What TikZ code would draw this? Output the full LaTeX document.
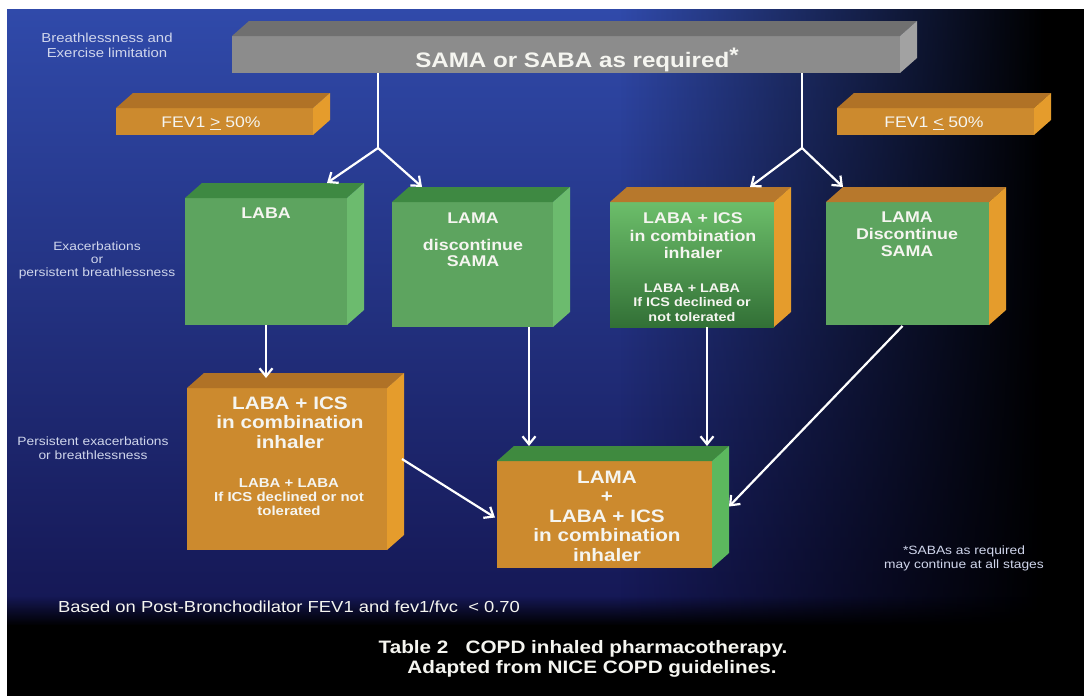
\documentclass[tikz,border=0pt]{standalone}
\usepackage{fontspec}
\setmainfont{Liberation Sans}[FakeStretch=1.15]
\usetikzlibrary{arrows.meta,calc,fadings}
\definecolor{bgT}{RGB}{48,74,170}
\definecolor{bgM}{RGB}{38,52,140}
\definecolor{bgB}{RGB}{20,22,82}
\definecolor{grF}{RGB}{93,164,95}
\definecolor{grT}{RGB}{62,137,66}
\definecolor{grS}{RGB}{108,187,110}
\definecolor{grA}{RGB}{108,190,106}
\definecolor{grB}{RGB}{50,112,54}
\definecolor{orF}{RGB}{204,138,46}
\definecolor{orT}{RGB}{176,114,38}
\definecolor{orS}{RGB}{229,156,44}
\definecolor{brT}{RGB}{183,120,44}
\definecolor{gyF}{RGB}{140,140,140}
\definecolor{gyT}{RGB}{112,112,112}
\definecolor{gyS}{RGB}{162,162,162}
\definecolor{fgT}{RGB}{63,138,63}
\definecolor{fgS}{RGB}{92,184,94}
\definecolor{labc}{RGB}{208,214,236}
\definecolor{txc}{RGB}{245,245,240}
\tikzfading[name=fadeR, left color=transparent!100, right color=transparent!0]
\tikzfading[name=fadeD, top color=transparent!100, bottom color=transparent!0]
\newcommand{\cubebox}[8]{%
  \node[face, #6, minimum width=#4pt, minimum height=#5pt, anchor=north west] (#1) at (#2,#3) {};
  \fill[#7] (#1.north west) -- ++(17,-15) -- ($(#1.north east)+(17,-15)$) -- (#1.north east) -- cycle;
  \fill[#8] (#1.north east) -- ++(17,-15) -- ($(#1.south east)+(17,-15)$) -- (#1.south east) -- cycle;
}
\begin{document}
\begin{tikzpicture}[x=1pt,y=-1pt,
  face/.style={rectangle, inner sep=0pt, outer sep=0pt, draw=none},
  conn/.style={draw=white, line width=2.2pt},
  arr/.style={conn, -{Straight Barb[length=8pt,width=13pt]}},
  txt/.style={text=txc, inner sep=0pt, align=center},
  lab/.style={text=labc, inner sep=0pt, align=center}]
\useasboundingbox (0,0) rectangle (1084,696);
% background
\fill[white] (0,0) rectangle (1084,696);
\shade[top color=bgT, middle color=bgM, bottom color=bgB] (7,9) rectangle (1084,625);
\fill[black, path fading=fadeR] (620,9) rectangle (1045,625);
\fill[black] (1044,9) rectangle (1084,625);
\fill[black, path fading=fadeD] (7,596) rectangle (1084,626);
\fill[black] (7,625) rectangle (1084,696);

% boxes
\cubebox{sama}{232}{36}{668}{37}{fill=gyF}{gyT}{gyS}
\cubebox{fevA}{116}{108}{197}{27}{fill=orF}{orT}{orS}
\cubebox{fevB}{837}{108}{197}{27}{fill=orF}{orT}{orS}
\cubebox{laba}{185}{198}{162}{127}{fill=grF}{grT}{grS}
\cubebox{lama}{392}{202}{161}{125}{fill=grF}{grT}{grS}
\cubebox{labaics}{610}{202}{164}{125}{top color=grA,bottom color=grB}{brT}{orS}
\cubebox{lamaR}{826}{202}{163}{123}{fill=grF}{brT}{orS}
\cubebox{labaicsO}{187}{388}{200}{162}{fill=orF}{orT}{orS}
\cubebox{final}{497}{461}{215}{107}{fill=orF}{fgT}{fgS}

% box texts
\node[txt, anchor=base, font=\fontsize{21}{24}\selectfont\bfseries] (samaT) at (577,67.5) {SAMA or SABA as required\raisebox{5pt}{*}};
\node[txt, anchor=base, font=\fontsize{15.3}{17}\selectfont] (fevAT) at (211,127.5) {FEV1 \underline{>} 50\%};
\node[txt, anchor=base, font=\fontsize{15.3}{17}\selectfont] (fevBT) at (934,127.5) {FEV1 \underline{<} 50\%};
\node[txt, anchor=north, font=\fontsize{15.5}{17.5}\selectfont\bfseries] (labaT) at (266,207.5) {LABA};
\node[txt, anchor=north, font=\fontsize{15.5}{16.5}\selectfont\bfseries] (lamaT) at (473,212.5) {LAMA\\[10.5pt]discontinue\\SAMA};
\node[txt, anchor=north, font=\fontsize{15.5}{17.5}\selectfont\bfseries] (labaicsT) at (693,212.5) {LABA + ICS\\in combination\\inhaler};
\node[txt, anchor=north, font=\fontsize{12.5}{14.5}\selectfont\bfseries] (labaicsS) at (692,283.5) {LABA + LABA\\If ICS declined or\\not tolerated};
\node[txt, anchor=north, font=\fontsize{15.5}{17}\selectfont\bfseries] (lamaRT) at (907,211.5) {LAMA\\Discontinue\\SAMA};
\node[txt, anchor=north, font=\fontsize{18}{19.5}\selectfont\bfseries] (labaicsOT) at (290,396.5) {LABA + ICS\\in combination\\inhaler};
\node[txt, anchor=north, font=\fontsize{13}{14}\selectfont\bfseries] (labaicsOS) at (289,478.3) {LABA + LABA\\If ICS declined or not\\tolerated};
\node[txt, anchor=north, font=\fontsize{18}{19.5}\selectfont\bfseries] (finalT) at (607,470.5) {LAMA\\+\\LABA + ICS\\in combination\\inhaler};

% side labels
\node[lab, anchor=north, font=\fontsize{13}{15}\selectfont] (l1) at (107,33.3) {Breathlessness and\\Exercise limitation};
\node[lab, anchor=north, font=\fontsize{12}{13}\selectfont] (l2) at (97,241.7) {Exacerbations\\or\\persistent breathlessness};
\node[lab, anchor=north, font=\fontsize{12}{14}\selectfont] (l3) at (93,436.7) {Persistent exacerbations\\or breathlessness};
\node[lab, anchor=north, font=\fontsize{12}{14}\selectfont] (foot) at (964,545.7) {*SABAs as required\\may continue at all stages};
\node[txt, anchor=base west, font=\fontsize{16}{18}\selectfont] (based) at (58,612) {Based on Post-Bronchodilator FEV1 and fev1/fvc~~< 0.70};
\node[txt, anchor=north, font=\fontsize{18}{20}\selectfont\bfseries] (cap) at (583,640.6) {Table 2~~~COPD inhaled pharmacotherapy.\\\hspace*{18pt}Adapted from NICE COPD guidelines.};

% connectors
\coordinate (j1) at (378,148);
\coordinate (j2) at (802,148);
\draw[conn] (sama.south -| j1) -- (j1);
\draw[arr] (j1) -- ($(laba.north east)+(-20,-15)$);
\draw[arr] (j1) -- ($(lama.north west)+(30,-15)$);
\draw[conn] (sama.south -| j2) -- (j2);
\draw[arr] (j2) -- ($(labaics.north east)+(-24,-15)$);
\draw[arr] (j2) -- ($(lamaR.north west)+(17,-15)$);
\coordinate (t1) at ($(labaicsO.north)+(0,-10)$);
\draw[arr] (laba.south) -- (laba.south |- t1);
\coordinate (t2) at ($(final.north west)+(32,-15)$);
\draw[arr] (lama.south -| t2) -- (t2);
\coordinate (t3) at ($(final.north east)+(-5,-15)$);
\draw[arr] (labaics.south -| t3) -- (t3);
\draw[arr] ($(labaicsO.east)+(15,-10)$) -- ($(final.west)+(-2,3)$);
\draw[arr] ($(lamaR.south)+(-5,1)$) -- ($(final.east)+(17,-8)$);
\end{tikzpicture}
\end{document}
